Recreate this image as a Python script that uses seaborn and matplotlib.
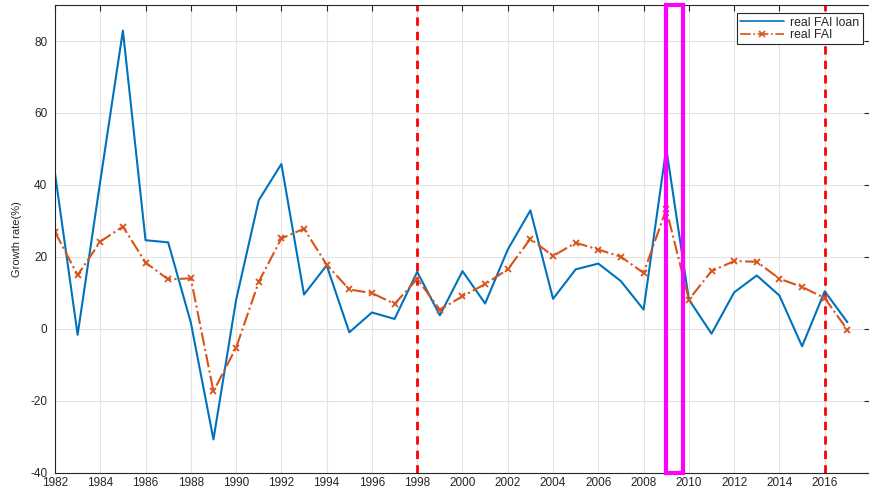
import numpy as np
import pandas as pd
import matplotlib
matplotlib.use('Agg')
import matplotlib.pyplot as plt
import seaborn as sns
from matplotlib.patches import Rectangle
from matplotlib.lines import Line2D

# data
years = list(range(1982, 2018))
fai_loan = [43.2, -1.7, 41.0, 82.9, 24.6, 24.0, 1.7, -30.8, 8.0, 35.7,
            45.8, 9.5, 17.6, -1.0, 4.5, 2.7, 15.8, 3.7, 16.0, 7.0,
            22.0, 32.9, 8.3, 16.5, 18.1, 13.2, 5.3, 50.2, 8.1, -1.4,
            10.1, 14.8, 9.2, -4.9, 10.4, 1.8]
fai = [26.9, 14.9, 24.2, 28.4, 18.4, 13.7, 14.0, -17.4, -5.3, 13.0,
       25.1, 27.8, 17.8, 10.9, 9.9, 6.9, 13.8, 5.3, 9.0, 12.4,
       16.5, 25.0, 20.2, 23.9, 22.0, 20.0, 15.5, 33.2, 8.1, 16.0,
       18.8, 18.6, 13.9, 11.6, 8.5, -0.3]
break_years = [1998, 2016]
crisis_span = (2009, 2009.75)

df = pd.DataFrame({'year': years, 'loan': fai_loan, 'fai': fai})

sns.set_style('whitegrid', {'grid.color': '#e3e3e3', 'axes.edgecolor': '#262626'})
plt.rcParams['font.family'] = ['Liberation Sans', 'DejaVu Sans']
plt.rcParams['axes.unicode_minus'] = False

blue = '#0072BD'
orange = '#D95319'

fig = plt.figure(figsize=(8.7, 4.9), dpi=100)
ax = fig.add_axes([0.0632, 0.0357, 0.9368, 0.954])

sns.lineplot(data=df, x='year', y='loan', ax=ax, color=blue, lw=1.5)
sns.lineplot(data=df, x='year', y='fai', ax=ax, color=orange, lw=1.5,
             linestyle='-.', marker='x', markersize=5, markeredgewidth=1.3,
             markeredgecolor=orange)

for yr in break_years:
    ax.axvline(yr, color='#FF0000', lw=2, ls=(0, (3, 2.2)), zorder=1)

ax.add_patch(Rectangle((crisis_span[0], -40), crisis_span[1] - crisis_span[0], 130,
                       fill=False, edgecolor='#FF00FF', lw=3, zorder=5, clip_on=False))

ax.set_xlim(1982, 2018)
ax.set_ylim(-40, 90)
ax.set_xticks(range(1982, 2017, 2))
ax.set_yticks(range(-40, 81, 20))
ax.tick_params(direction='in', length=4, width=0.8, colors='#262626',
               labelsize=8.5, top=True, right=True)
ax.tick_params(axis='x', pad=3.5)
ax.tick_params(axis='y', pad=5.5)
ax.set_xlabel('')
ax.set_ylabel('Growth rate(%)', fontsize=8, color='#262626', labelpad=6)
for s in ax.spines.values():
    s.set_linewidth(0.8)

handles = [Line2D([], [], color=blue, lw=1.2),
           Line2D([], [], color=orange, lw=1.2, ls='-.', marker='x',
                  markersize=5, markeredgewidth=1.2, markevery=[1])]
leg = ax.legend(handles, ['real FAI loan', 'real FAI'], loc='upper right',
                bbox_to_anchor=(0.9985, 0.995), fontsize=8.8,
                frameon=True, fancybox=False, handlelength=3.6,
                borderpad=0.25, labelspacing=0.05, handletextpad=0.5,
                framealpha=1)
leg.get_frame().set_edgecolor('#262626')
leg.get_frame().set_linewidth(0.8)

fig.savefig('out.png', dpi=100)
